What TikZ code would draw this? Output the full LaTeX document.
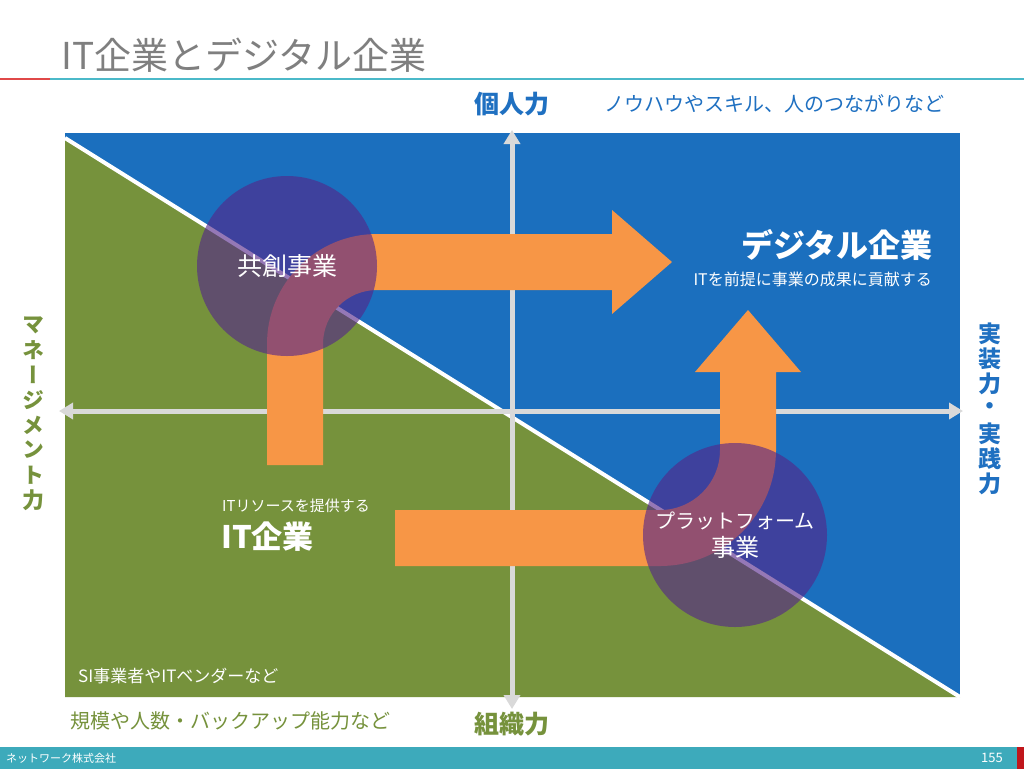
\documentclass[tikz,border=0pt]{standalone}
\usepackage{fontspec}
\setmainfont{Noto Sans CJK JP}
\newfontfamily\vertfont{Noto Sans CJK JP}[RawFeature=+vert]
\usetikzlibrary{positioning}
\usetikzlibrary{arrows.meta}

\definecolor{quadblue}{HTML}{1B6FBE}
\definecolor{quadgreen}{HTML}{76923C}
\definecolor{arroworange}{HTML}{F79646}
\definecolor{hubpurple}{HTML}{54268A}
\definecolor{labelblue}{HTML}{1F70C1}
\definecolor{titlegray}{HTML}{7F7F7F}
\definecolor{axisgray}{HTML}{D9D9D9}
\definecolor{barteal}{HTML}{3DAABB}
\definecolor{lineteal}{HTML}{4BB9C9}
\definecolor{linered}{HTML}{E04848}
\definecolor{barred}{HTML}{C0161B}

\tikzset{
  axisline/.style={draw=axisgray, line width=5pt,
    {Triangle[length=14pt,width=16pt]}-{Triangle[length=14pt,width=16pt]}},
  orangearrow/.style={fill=arroworange},
  hubcircle/.style={circle, fill=hubpurple, fill opacity=0.62, text opacity=1,
    text=white, inner sep=0pt, align=center},
  plain/.style={inner sep=0pt},
}

\begin{document}
\begin{tikzpicture}[x=1pt, y=-1pt]
  \useasboundingbox (0,0) rectangle (1024,769);
  \fill[white] (0,0) rectangle (1024,769);

  % Title and rule below it
  \node[plain, anchor=west, text=titlegray, font=\fontsize{37}{40}\selectfont] (title) at (61,55) {IT企業とデジタル企業};
  \fill[linered] (0,78) rectangle (50,80);
  \fill[lineteal] (50,78) rectangle (1024,80);

  % Quadrants
  \fill[quadblue] (65,133) rectangle (960,697);
  \fill[quadgreen] (65,138) -- (960,697) -- (65,697) -- cycle;
  \draw[white, line width=4pt] (65,138) -- (960,697);

  % Axes
  \coordinate (axtop) at (512,130);
  \coordinate (axbottom) at (512,709);
  \coordinate (axleft) at (59,411);
  \coordinate (axright) at (963,411);
  \draw[axisline] (axbottom) -- (axtop);
  \draw[axisline] (axleft) -- (axright);

  % Orange arrows
  \fill[orangearrow] (267,465) -- (267,344) arc (180:270:110) -- (612,234) -- (612,210)
    -- (672,262) -- (612,314) -- (612,290) -- (377,290) arc (270:180:54) -- (323,465) -- cycle;
  \fill[orangearrow] (395,566) -- (660,566) arc (90:0:116) -- (776,372) -- (801,372)
    -- (748,310) -- (695,372) -- (720,372) -- (720,450) arc (0:90:60) -- (395,510) -- cycle;

  % Business circles
  \node[hubcircle, minimum size=180pt, font=\fontsize{25}{28}\selectfont] (kyoso) at (287,266) {共創事業};
  \node[hubcircle, minimum size=184pt, font=\fontsize{20}{28}\selectfont] (platform) at (735,535)
    {プラットフォーム\\{\fontsize{24}{28}\selectfont 事業}};

  % Axis labels
  \node[plain, text=labelblue, font=\bfseries\fontsize{25}{28}\selectfont] (kojin) at (512,104) {個人力};
  \node[plain, text=labelblue, font=\fontsize{20}{24}\selectfont, right=55pt of kojin] (kojinnote) {ノウハウやスキル、人のつながりなど};
  \node[plain, text=quadgreen, font=\bfseries\fontsize{25}{28}\selectfont] (soshiki) at (512,724) {組織力};
  \node[plain, text=quadgreen, font=\fontsize{20}{24}\selectfont, anchor=west] (soshikinote) at (70,721) {規模や人数・バックアップ能力など};

  \foreach \ch [count=\i] in {マ,ネ,ー,ジ,メ,ン,ト,力}
    \node[plain, text=quadgreen, font=\vertfont\bfseries\fontsize{22}{25}\selectfont] (mgmt\i) at (33,{300+25*\i}) {\ch};
  \foreach \ch [count=\i] in {実,装,力,・,実,践,力}
    \node[plain, text=labelblue, font=\vertfont\bfseries\fontsize{23}{25}\selectfont] (jisso\i) at (990,{309+25*\i}) {\ch};

  % Quadrant texts
  \node[plain, text=white, font=\bfseries\fontsize{32}{36}\selectfont, anchor=east] (digital) at (933,245) {デジタル企業};
  \node[plain, text=white, font=\fontsize{16}{18}\selectfont, anchor=east] (digitalnote) at (932,279) {ITを前提に事業の成果に貢献する};
  \node[plain, text=white, font=\fontsize{15}{18}\selectfont, anchor=west] (itnote) at (222,506) {ITリソースを提供する};
  \node[plain, text=white, font=\bfseries\fontsize{31}{34}\selectfont, anchor=west] (itcorp) at (221,537) {IT企業};
  \node[plain, text=white, font=\fontsize{17}{20}\selectfont, anchor=west] (sivendor) at (78,676) {SI事業者やITベンダーなど};

  % Footer
  \fill[barteal] (0,747) rectangle (1017,769);
  \fill[barred] (1017,747) rectangle (1024,769);
  \node[plain, text=white, font=\fontsize{11}{12}\selectfont, anchor=west] (company) at (6,758) {ネットワーク株式会社};
  \node[plain, text=white, font=\fontsize{13}{14}\selectfont] (page) at (992,758) {155};
\end{tikzpicture}
\end{document}
